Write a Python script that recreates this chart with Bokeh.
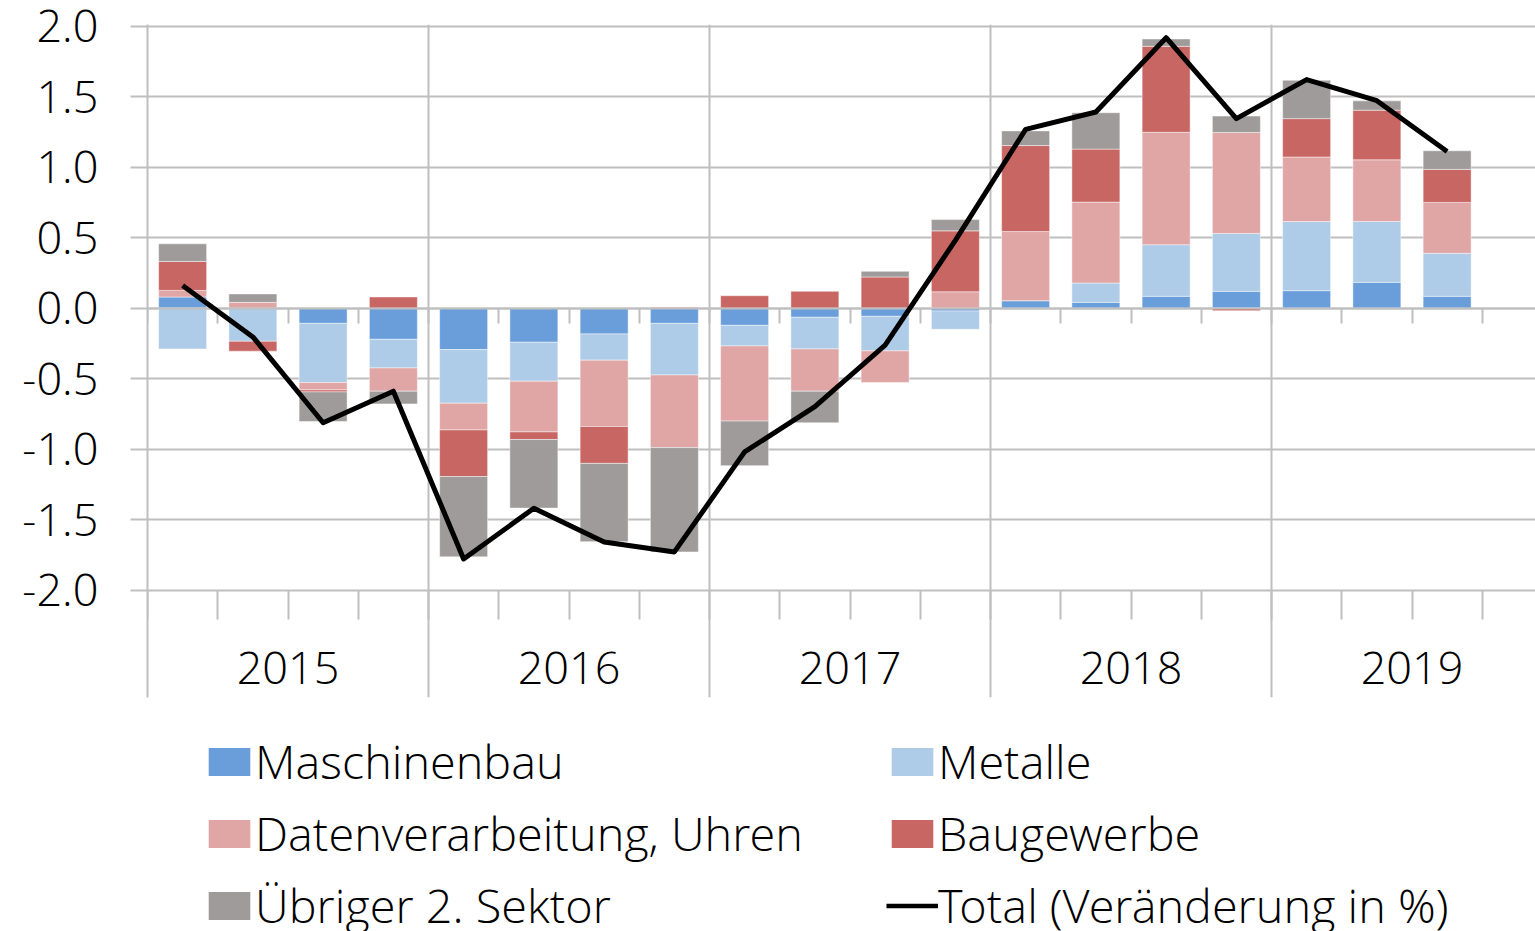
import numpy as np
from bokeh.plotting import figure
from bokeh.models import (ColumnDataSource, LinearAxis, FixedTicker, Legend, LegendItem,
                          Range1d, Grid)
from bokeh.layouts import column
from bokeh.embed import file_html
from bokeh.resources import INLINE

# ---------------- data ----------------
quarters = ["2015 Q1", "2015 Q2", "2015 Q3", "2015 Q4",
            "2016 Q1", "2016 Q2", "2016 Q3", "2016 Q4",
            "2017 Q1", "2017 Q2", "2017 Q3", "2017 Q4",
            "2018 Q1", "2018 Q2", "2018 Q3", "2018 Q4",
            "2019 Q1", "2019 Q2", "2019 Q3"]
years = ["2015", "2016", "2017", "2018", "2019"]

maschinenbau = [0.078, 0.0, -0.109, -0.222, -0.295, -0.243, -0.184, -0.109, -0.123, -0.066,
                -0.059, -0.021, 0.052, 0.040, 0.083, 0.118, 0.123, 0.182, 0.083]
metalle = [-0.290, -0.236, -0.420, -0.203, -0.380, -0.276, -0.186, -0.366, -0.146, -0.224,
           -0.245, -0.130, 0.0, 0.137, 0.366, 0.411, 0.490, 0.432, 0.305]
datenverarbeitung = [0.047, 0.040, -0.052, -0.165, -0.190, -0.360, -0.470, -0.515, -0.533, -0.300,
                     -0.224, 0.115, 0.490, 0.574, 0.797, 0.716, 0.458, 0.437, 0.361]
baugewerbe = [0.205, -0.070, -0.014, 0.078, -0.330, -0.054, -0.262, 0.005, 0.087, 0.118,
              0.220, 0.432, 0.610, 0.376, 0.610, -0.019, 0.272, 0.352, 0.234]
uebriger = [0.125, 0.060, -0.210, -0.090, -0.570, -0.486, -0.555, -0.740, -0.316, -0.224,
            0.040, 0.080, 0.104, 0.258, 0.052, 0.116, 0.272, 0.066, 0.132]
total = [0.16, -0.205, -0.814, -0.59, -1.78, -1.42, -1.66, -1.73, -1.02, -0.70,
         -0.264, 0.48, 1.267, 1.39, 1.917, 1.343, 1.62, 1.47, 1.11]

series_names = ["Maschinenbau", "Metalle", "Datenverarbeitung, Uhren", "Baugewerbe",
                "Übriger 2. Sektor"]
total_name = "Total (Veränderung in %)"

y_ticks = [-2.0, -1.5, -1.0, -0.5, 0.0, 0.5, 1.0, 1.5, 2.0]
y_tick_labels = ["-2.0", "-1.5", "-1.0", "-0.5", "0.0", "0.5", "1.0", "1.5", "2.0"]

# ---------------- styling ----------------
colors = ["#6A9EDA", "#AECBE7", "#E0A5A5", "#C86663", "#9F9B9A"]
GRID = "#BFBFBF"
FONT = "Open Sans Light, Open Sans"
FS = "45px"
LEG_FS = "46.8px"

n = len(quarters)
per_year = 4
x = list(range(n))

W = 1535
H1 = 700
H2 = 231
FRAME_LEFT = 147
FRAME_TOP = 24
FRAME_BOTTOM = 697
PX_PER_UNIT = 141.0
SLOT_PX = 70.25

x_end = -0.5 + (W - FRAME_LEFT) / SLOT_PX
y_end = 2.0 + 1.5 / PX_PER_UNIT
y_start = y_end - (FRAME_BOTTOM - FRAME_TOP) / PX_PER_UNIT

p = figure(width=W, height=H1,
           x_range=Range1d(-0.5, x_end), y_range=Range1d(y_start, y_end),
           x_axis_type=None, y_axis_type=None,
           toolbar_location=None, output_backend="svg",
           min_border_left=FRAME_LEFT, min_border_right=0,
           min_border_top=FRAME_TOP, min_border_bottom=H1 - FRAME_BOTTOM)
p.outline_line_color = None
p.background_fill_color = "white"
p.border_fill_color = "white"

# grids
p.add_layout(Grid(dimension=1, ticker=FixedTicker(ticks=y_ticks),
                  grid_line_color=GRID, grid_line_width=2))
year_bounds = [-0.5 + per_year * k for k in range(len(years) + 1)]
p.add_layout(Grid(dimension=0, ticker=FixedTicker(ticks=year_bounds),
                  grid_line_color=GRID, grid_line_width=2))

# stacked bars (positive and negative stacks separately)
pos = [0.0] * n
neg = [0.0] * n
bar_renderers = []
for name, vals, col in zip(series_names,
                           [maschinenbau, metalle, datenverarbeitung, baugewerbe, uebriger],
                           colors):
    bottoms, tops = [], []
    for i, v in enumerate(vals):
        if v >= 0:
            bottoms.append(pos[i]); tops.append(pos[i] + v); pos[i] += v
        else:
            bottoms.append(neg[i]); tops.append(neg[i] + v); neg[i] += v
    src = ColumnDataSource(dict(x=x, bottom=bottoms, top=tops, q=quarters))
    r = p.vbar(x="x", bottom="bottom", top="top", width=0.683, source=src,
               fill_color=col, line_color="white", line_width=1, line_alpha=0.45)
    bar_renderers.append(r)

line_r = p.line(x=x, y=total, line_color="black", line_width=5, line_join="round",
                level="overlay")

# axes
yaxis = LinearAxis(ticker=FixedTicker(ticks=y_ticks),
                   major_label_overrides={t: l for t, l in zip(y_ticks, y_tick_labels)},
                   axis_line_color=GRID, axis_line_width=2,
                   major_tick_line_color=GRID, major_tick_line_width=2,
                   major_tick_out=17, major_tick_in=0, minor_tick_line_color=None,
                   major_label_text_font=FONT, major_label_text_font_size=FS,
                   major_label_text_color="black", major_label_standoff=32)
p.add_layout(yaxis, "left")

q_bounds = [-0.5 + k for k in range(len(years) * per_year + 1)]
zero_axis = LinearAxis(fixed_location=0, ticker=FixedTicker(ticks=q_bounds),
                       axis_line_color=GRID, axis_line_width=2,
                       major_tick_line_color=GRID, major_tick_line_width=2,
                       major_tick_out=15, major_tick_in=0, minor_tick_line_color=None,
                       major_label_text_color=None)
p.add_layout(zero_axis, "below")

bottom_ticks = LinearAxis(fixed_location=-2.0, ticker=FixedTicker(ticks=q_bounds),
                          axis_line_color=None,
                          major_tick_line_color=GRID, major_tick_line_width=2,
                          major_tick_out=29, major_tick_in=0, minor_tick_line_color=None,
                          major_label_text_color=None)
p.add_layout(bottom_ticks, "below")

year_centers = [per_year * k + (per_year - 1) / 2 for k in range(len(years))]
year_axis = LinearAxis(fixed_location=-2.0, ticker=FixedTicker(ticks=year_centers),
                       major_label_overrides={c: y for c, y in zip(year_centers, years)},
                       axis_line_color=None, major_tick_line_color=None,
                       minor_tick_line_color=None,
                       major_tick_out=0, major_tick_in=0,
                       major_label_text_font=FONT, major_label_text_font_size=FS,
                       major_label_text_color="black", major_label_standoff=62)
p.add_layout(year_axis, "below")

# ---------------- legend figure ----------------
p2 = figure(width=W, height=H2, x_range=Range1d(0, W), y_range=Range1d(0, H2),
            x_axis_type=None, y_axis_type=None, toolbar_location=None,
            output_backend="svg", min_border=0)
p2.outline_line_color = None
p2.grid.visible = False
p2.background_fill_color = "white"
p2.border_fill_color = "white"

# placeholder renderers (one NaN point each, never visible) that carry the legend styles
nan1 = np.array([np.nan])
leg_r = []
for col in colors:
    leg_r.append(p2.vbar(x=nan1, top=nan1, width=1, fill_color=col, line_color=None))
leg_line = p2.line(x=nan1, y=nan1, line_color="black", line_width=4.5)


def make_legend(items, loc):
    return Legend(items=items, location=loc, orientation="vertical",
                  glyph_width=52, glyph_height=35, label_standoff=0, spacing=8,
                  padding=0, margin=0, border_line_color=None,
                  background_fill_alpha=0,
                  label_text_font=FONT, label_text_font_size=LEG_FS,
                  label_text_color="black")


# legend locations are relative to the (aligned) frame, whose left edge is at FRAME_LEFT
leg1 = make_legend([LegendItem(label=series_names[0], renderers=[leg_r[0]]),
                    LegendItem(label=series_names[2], renderers=[leg_r[2]]),
                    LegendItem(label=series_names[4], renderers=[leg_r[4]])],
                   (203 - FRAME_LEFT, -6))
leg2 = make_legend([LegendItem(label=series_names[1], renderers=[leg_r[1]]),
                    LegendItem(label=series_names[3], renderers=[leg_r[3]]),
                    LegendItem(label=total_name, renderers=[leg_line])],
                   (886 - FRAME_LEFT, -6))
p2.add_layout(leg1)
p2.add_layout(leg2)

open("out.html", "w").write(file_html(column(p, p2, spacing=0), INLINE))
